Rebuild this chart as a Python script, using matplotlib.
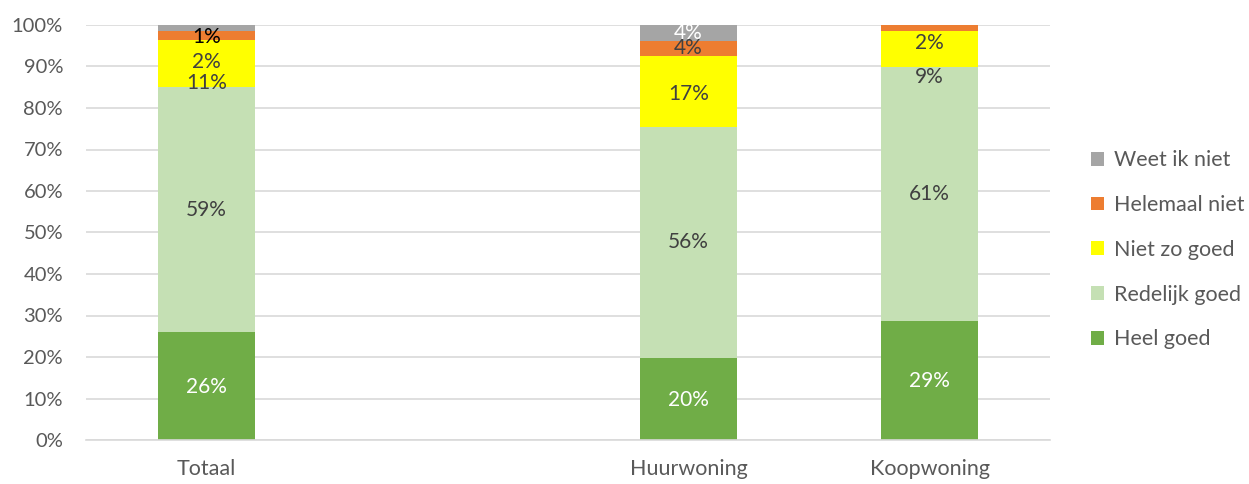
import matplotlib
matplotlib.use("Agg")
import matplotlib.pyplot as plt
from matplotlib.patches import Patch

categories = ["Totaal", "", "Huurwoning", "Koopwoning"]
series = ["Heel goed", "Redelijk goed", "Niet zo goed", "Helemaal niet", "Weet ik niet"]
heel_goed = [26.0, None, 19.8, 28.7]
redelijk_goed = [59.1, None, 55.6, 61.1]
niet_zo_goed = [11.3, None, 17.1, 8.8]
helemaal_niet = [2.2, None, 3.7, 1.4]
weet_ik_niet = [1.4, None, 3.8, 0.0]
labels_totaal = ["26%", "59%", "11%", "2%", "1%"]
labels_huur = ["20%", "56%", "17%", "4%", "4%"]
labels_koop = ["29%", "61%", "9%", "2%", ""]

colors = ["#70AD47", "#C5E0B4", "#FFFF00", "#ED7D31", "#A5A5A5"]
label_colors = [
    ["white", "#404040", "#404040", "#404040", "black"],
    None,
    ["white", "#404040", "#404040", "#404040", "white"],
    ["white", "#404040", "#404040", "#404040", "#404040"],
]
# label vertical positions (layout, in axis % units)
label_y = [[12.8, 55.5, 86.0, 91.2, 97.2], None, [9.6, 47.7, 83.4, 94.4, 98.0], [14.2, 59.2, 87.5, 95.6, 99.0]]

plt.rcParams['font.family'] = ['Lato', 'DejaVu Sans']
fig = plt.figure(figsize=(12.49, 4.84), dpi=100)
ax = fig.add_axes([86/1249, 44/484, (1050-86)/1249, (440-25)/484])

data = [heel_goed, redelijk_goed, niet_zo_goed, helemaal_niet, weet_ik_niet]
all_labels = [labels_totaal, None, labels_huur, labels_koop]
xs = [0, 2, 3]
for xi in xs:
    bottom = 0
    for si, s in enumerate(data):
        v = s[xi]
        ax.bar(xi, v, bottom=bottom, width=0.4, color=colors[si], zorder=2)
        bottom += v
    for si in range(5):
        t = all_labels[xi][si]
        if t:
            ax.text(xi, label_y[xi][si], t, ha="center", va="center", fontsize=15,
                    color=label_colors[xi][si], zorder=3)

ax.set_xlim(-0.5, 3.5)
ax.set_ylim(0, 100)
ax.set_xticks(range(4))
ax.set_xticklabels(categories, fontsize=15.5, color="#595959")
ax.set_yticks(range(0, 101, 10))
ax.set_yticklabels([f"{v}%" for v in range(0, 101, 10)], fontsize=14.5, color="#595959")
ax.tick_params(axis="x", length=0, pad=14)
ax.tick_params(axis="y", length=0, pad=16.5)
ax.yaxis.grid(True, color="#D9D9D9", linewidth=1.2, zorder=0)
for sp in ["top", "right", "left"]:
    ax.spines[sp].set_visible(False)
ax.spines["bottom"].set_color("#D9D9D9")
ax.spines["bottom"].set_linewidth(1.2)

handles = [Patch(facecolor=colors[i], label=series[i]) for i in range(4, -1, -1)]
fig.legend(handles=handles, loc="upper left", bbox_to_anchor=(1072/1249, 1 - 131/484),
           frameon=False, fontsize=15.5, labelcolor="#595959", handlelength=0.6,
           handleheight=0.6, handletextpad=0.45, labelspacing=1.15)

fig.savefig("out.png", dpi=100)
